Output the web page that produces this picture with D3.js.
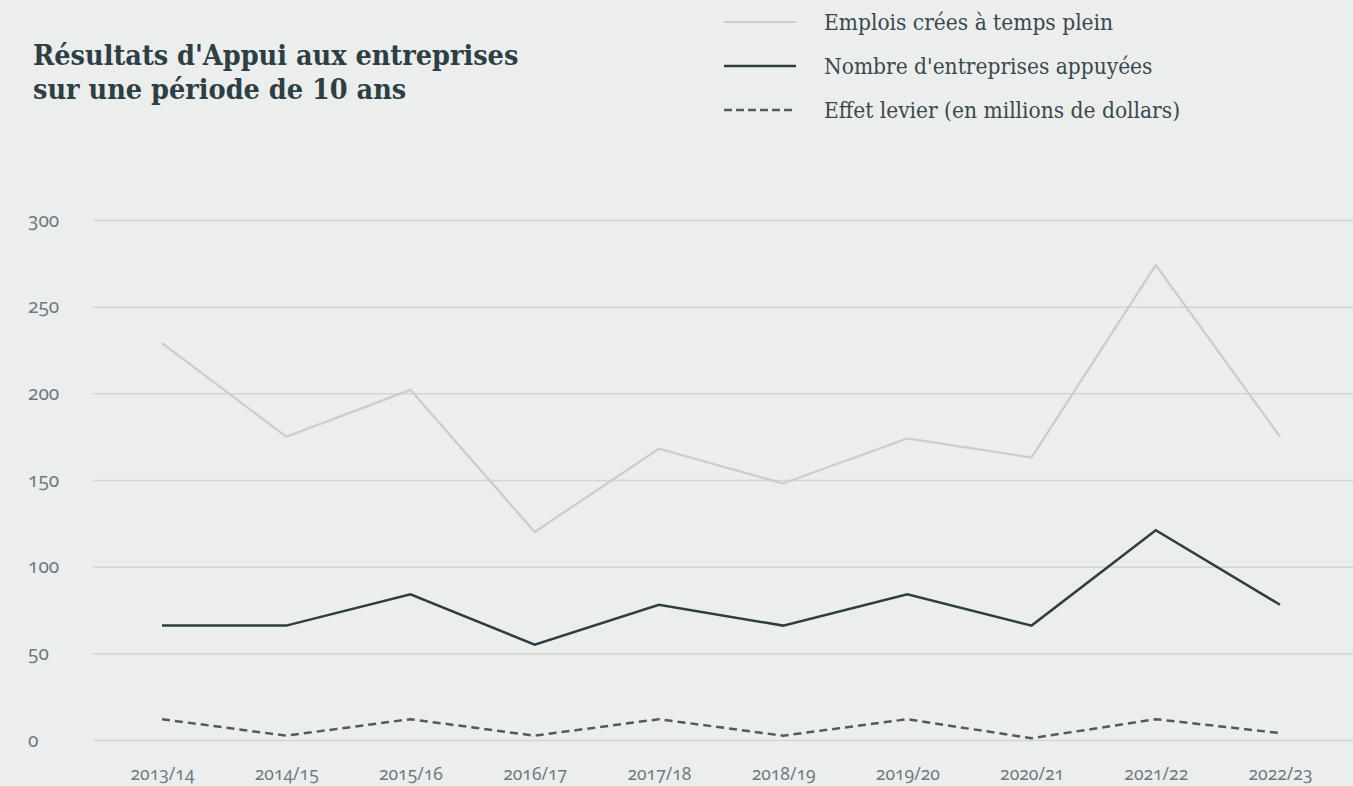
<!DOCTYPE html>
<html>
<head>
<meta charset="utf-8">
<script src="https://cdn.jsdelivr.net/npm/d3@7/dist/d3.min.js"></script>
<style>
  html, body { margin: 0; padding: 0; background: #eceeed; }
  svg { display: block; }
</style>
</head>
<body>
<svg id="chart" width="1353" height="786"></svg>
<script>
// ---- data ----
const years = ["2013/14","2014/15","2015/16","2016/17","2017/18","2018/19","2019/20","2020/21","2021/22","2022/23"];
const emplois = [229, 175, 202, 120, 168, 148, 174, 163, 274, 175];
const entreprises = [66, 66, 84, 55, 78, 66, 84, 66, 121, 78];
const levier = [12, 2.5, 12, 2.5, 12, 2.5, 12, 1, 12, 4];
const yTicks = [0, 50, 100, 150, 200, 250, 300];
const titleLines = ["Résultats d'Appui aux entreprises", "sur une période de 10 ans"];
const legendLabels = ["Emplois crées à temps plein", "Nombre d'entreprises appuyées", "Effet levier (en millions de dollars)"];

const svg = d3.select("#chart");
const W = 1353, H = 786;
svg.append("rect").attr("width", W).attr("height", H).attr("fill", "#eceeed");

const x = d3.scalePoint().domain(years).range([162, 1280]);
const y = d3.scaleLinear().domain([0, 300]).range([740, 220]);

// grid
const yAxis = d3.axisLeft(y).tickValues(yTicks).tickSize(-(W - 93)).tickFormat(d3.format("d"));
const gy = svg.append("g").attr("transform", "translate(93,0)").call(yAxis);
gy.select(".domain").remove();
gy.selectAll(".tick line").attr("stroke", "#d2d5d4").attr("stroke-width", 1.5);
gy.selectAll(".tick text")
  .attr("x", -65).attr("text-anchor", "start")
  .attr("fill", "#6d7b7f")
  .style("font-family", "'Noto Sans', sans-serif")
  .style("font-size", "19px")
  .style("font-feature-settings", "'onum' 1")
  .style("font-variant-numeric", "oldstyle-nums");

// x axis labels
const xAxis = d3.axisBottom(x).tickSize(0);
const gx = svg.append("g").attr("transform", "translate(0,765)").call(xAxis);
gx.select(".domain").remove();
gx.selectAll(".tick text")
  .attr("dy", "0.71em")
  .attr("fill", "#6d7b7f")
  .style("font-family", "'Noto Sans', sans-serif")
  .style("font-size", "17.5px")
  .style("font-feature-settings", "'onum' 1")
  .style("font-variant-numeric", "oldstyle-nums");

// lines
const series = [
  { values: emplois, color: "#c9cdcc", width: 2.2, dash: null },
  { values: entreprises, color: "#2e3d42", width: 2.5, dash: null },
  { values: levier, color: "#4f5b5f", width: 2.5, dash: "8,5" }
];
const line = d3.line().x((d, i) => x(years[i])).y(d => y(d));
series.forEach(s => {
  svg.append("path")
    .datum(s.values)
    .attr("d", line)
    .attr("fill", "none")
    .attr("stroke", s.color)
    .attr("stroke-width", s.width)
    .attr("stroke-dasharray", s.dash)
    .attr("stroke-linejoin", "miter");
});

// title
const title = svg.append("text")
  .attr("x", 33).attr("y", 65)
  .attr("fill", "#2d3e44")
  .style("font-family", "'DejaVu Serif Condensed', 'DejaVu Serif', serif")
  .style("font-weight", "bold")
  .style("font-size", "28.5px");
titleLines.forEach((t, i) => {
  title.append("tspan").attr("x", 33).attr("dy", i === 0 ? 0 : 34).text(t);
});

// legend
const legendY = [22, 66, 110];
legendLabels.forEach((lab, i) => {
  const s = series[i];
  svg.append("line")
    .attr("x1", 724).attr("x2", 796)
    .attr("y1", legendY[i]).attr("y2", legendY[i])
    .attr("stroke", s.color).attr("stroke-width", s.width)
    .attr("stroke-dasharray", s.dash ? "8,4" : null);
  svg.append("text")
    .attr("x", 824).attr("y", legendY[i] + 8)
    .attr("fill", "#3a484c")
    .style("font-family", "'DejaVu Serif Condensed', 'DejaVu Serif', serif")
    .style("font-size", "22.5px")
    .text(lab);
});
</script>
</body>
</html>
